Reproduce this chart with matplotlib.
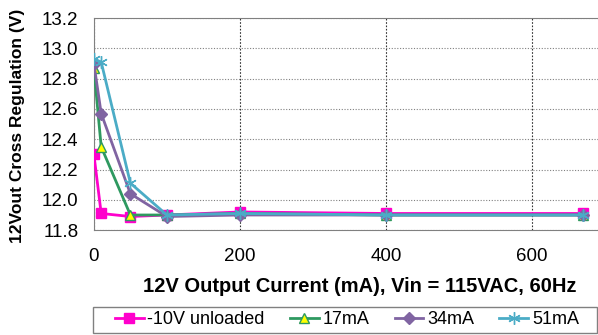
import matplotlib.pyplot as plt
from matplotlib.patches import Rectangle

plt.rcParams['font.family'] = ['Liberation Sans', 'DejaVu Sans']

# output current points (mA)
current = [0, 10, 50, 100, 200, 400, 670]

# 12V output voltage for each -10V load
v_unloaded = [12.30, 11.91, 11.89, 11.90, 11.92, 11.91, 11.91]
v_17ma = [12.87, 12.35, 11.90, 11.90, 11.91, 11.90, 11.90]
v_34ma = [12.90, 12.57, 12.04, 11.89, 11.90, 11.90, 11.90]
v_51ma = [12.93, 12.91, 12.11, 11.90, 11.91, 11.90, 11.90]

yticks = [11.8, 12.0, 12.2, 12.4, 12.6, 12.8, 13.0, 13.2]
xticks = [0, 200, 400, 600]

fig = plt.figure(figsize=(5.98, 3.35), dpi=100)
ax = fig.add_axes([0.157, 0.313, 0.855, 0.633])

ax.plot(current, v_unloaded, color='#FF00CC', lw=2, marker='s', ms=7,
        mec='#FF00CC', mfc='#FF00CC', label='-10V unloaded', zorder=3)
ax.plot(current, v_17ma, color='#2E9960', lw=2, marker='^', ms=7,
        mec='#2E9960', mfc='#FFFF00', label='17mA', zorder=4)
ax.plot(current, v_34ma, color='#8064A2', lw=2, marker='D', ms=6,
        mec='#8064A2', mfc='#8064A2', label='34mA', zorder=5)
ax.plot(current, v_51ma, color='#4BACC6', lw=2, marker=(6, 2, 0), ms=9,
        mec='#4BACC6', mfc='#4BACC6', label='51mA', zorder=6)

ax.set_xlim(0, 700)
ax.set_ylim(11.8, 13.2)
ax.set_xticks(xticks)
ax.set_yticks(yticks)
ax.set_yticklabels([f'{t:.1f}' for t in yticks])
ax.tick_params(labelsize=13.5, length=0, colors='#000000')
ax.tick_params(axis='y', pad=11)
ax.tick_params(axis='x', pad=13)

ax.grid(axis='y', color='#808080', ls=(0, (1, 1.5)), lw=0.8)
ax.grid(axis='x', color='#333333', ls=(0, (1.5, 1.5)), lw=0.8)
ax.set_axisbelow(True)
for s in ax.spines.values():
    s.set_color('#808080')

ax.set_xlabel('12V Output Current (mA), Vin = 115VAC, 60Hz', fontsize=14.5,
              fontweight='bold')
ax.set_ylabel('12Vout Cross Regulation (V)', fontsize=12.5, fontweight='bold')
ax.yaxis.set_label_coords(-0.135, 0.49)
ax.xaxis.set_label_coords(0.52, -0.22)

# legend entries, frame drawn separately to span the plot width
leg = fig.legend(loc='center', bbox_to_anchor=(0.58, 0.045), ncol=4,
                 fontsize=13, frameon=False, handlelength=1.6,
                 handletextpad=0.2, columnspacing=1.4, borderpad=0,
                 borderaxespad=0)
fig.patches.append(Rectangle((0.156, 0.006), 0.842, 0.078, fill=False,
                             edgecolor='#808080', lw=1,
                             transform=fig.transFigure, figure=fig))

fig.savefig('out.png', dpi=100)
